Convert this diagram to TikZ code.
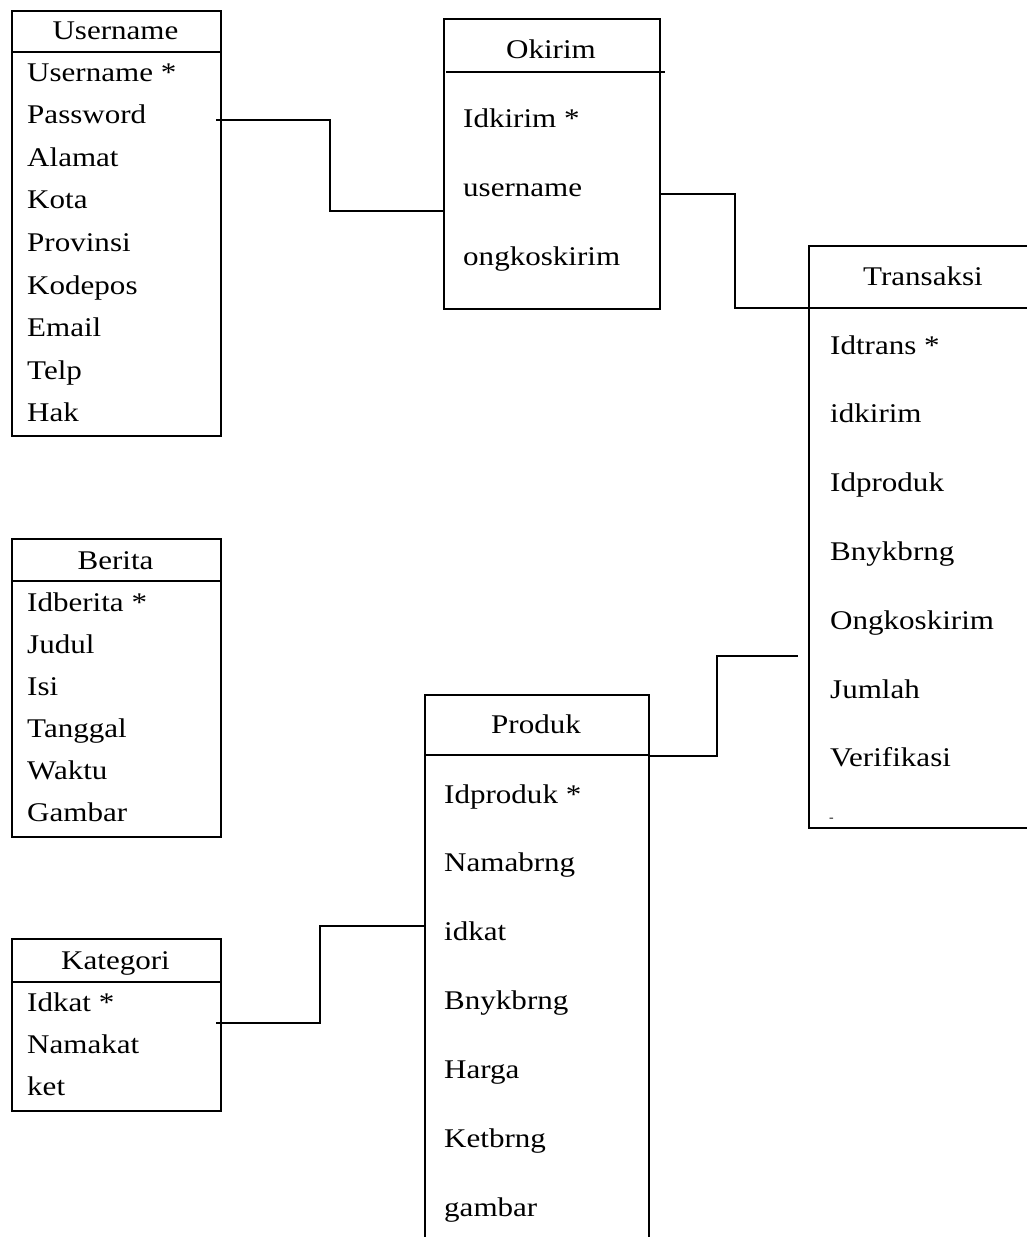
\documentclass[tikz,border=0pt]{standalone}
\usepackage{fontspec}
\setmainfont[FakeStretch=1.15]{Liberation Serif}
\begin{document}
\begin{tikzpicture}[x=1pt,y=-1pt,
  entity/.style={draw, line width=1.8pt, inner sep=0pt, anchor=north west},
  rule/.style={line width=1.8pt},
  link/.style={line width=1.8pt},
  field/.style={inner sep=0pt, anchor=base west, font=\fontsize{27}{31}\selectfont},
  title/.style={inner sep=0pt, anchor=base, font=\fontsize{27}{31}\selectfont}]
\path[clip] (0,0) rectangle (1027,1237);

% ---- Username ----
\node[entity, minimum width=209pt, minimum height=425pt] (user) at (11,10) {};
\draw[rule] (11,52) -- (220,52);
\node[title] (userT) at (115.5,39) {Username};
\foreach \t [count=\i from 0] in {Username *,Password,Alamat,Kota,Provinsi,Kodepos,Email,Telp,Hak}
  \node[field] (user\i) at (27,81+42.6*\i) {\t};

% ---- Berita ----
\node[entity, minimum width=209pt, minimum height=298pt] (berita) at (11,538) {};
\draw[rule] (11,581) -- (220,581);
\node[title] (beritaT) at (115.5,569) {Berita};
\foreach \t [count=\i from 0] in {Idberita *,Judul,Isi,Tanggal,Waktu,Gambar}
  \node[field] (berita\i) at (27,611+42*\i) {\t};

% ---- Kategori ----
\node[entity, minimum width=209pt, minimum height=172pt] (kategori) at (11,938) {};
\draw[rule] (11,982) -- (220,982);
\node[title] (kategoriT) at (115.5,969) {Kategori};
\foreach \t [count=\i from 0] in {Idkat *,Namakat,ket}
  \node[field] (kategori\i) at (27,1011+42*\i) {\t};

% ---- Okirim ----
\node[entity, minimum width=216pt, minimum height=290pt] (okirim) at (443,18) {};
\draw[rule] (446,72) -- (665,72);
\node[title] (okirimT) at (551,58) {Okirim};
\foreach \t [count=\i from 0] in {Idkirim *,username,ongkoskirim}
  \node[field] (okirim\i) at (463,127+69*\i) {\t};

% ---- Transaksi (runs past the right edge) ----
\node[entity, minimum width=230pt, minimum height=582pt] (transaksi) at (808,245) {};
\draw[rule] (808,308) -- (1040,308);
\node[title] (transaksiT) at (923,285) {Transaksi};
\foreach \t [count=\i from 0] in {Idtrans *,idkirim,Idproduk,Bnykbrng,Ongkoskirim,Jumlah,Verifikasi}
  \node[field] (transaksi\i) at (830,354+68.8*\i) {\t};
\node[inner sep=0pt, anchor=base west, font=\fontsize{12}{14}\selectfont] (transaksiX) at (829,821) {-};

% ---- Produk (runs past the bottom edge) ----
\node[entity, minimum width=224pt, minimum height=580pt] (produk) at (424,694) {};
\draw[rule] (424,755) -- (648,755);
\node[title] (produkT) at (536,733) {Produk};
\foreach \t [count=\i from 0] in {Idproduk *,Namabrng,idkat,Bnykbrng,Harga,Ketbrng,gambar}
  \node[field] (produk\i) at (444,803+68.9*\i) {\t};

% ---- connectors ----
\coordinate (userOut) at (216,120);
\coordinate (okirimIn) at (443,211);
\draw[link] (userOut) -- (330,120) -- (330,211) -- (okirimIn);

\coordinate (okirimOut) at (659,194);
\coordinate (transaksiIn) at (808,308);
\draw[link] (okirimOut) -- (735,194) -- (735,308) -- (transaksiIn);

\coordinate (produkOut) at (648,756);
\coordinate (transaksiEnd) at (798,656);
\draw[link] (produkOut) -- (717,756) -- (717,656) -- (transaksiEnd);

\coordinate (kategoriOut) at (216,1023);
\coordinate (produkIn) at (424,926);
\draw[link] (kategoriOut) -- (320,1023) -- (320,926) -- (produkIn);
\end{tikzpicture}
\end{document}
